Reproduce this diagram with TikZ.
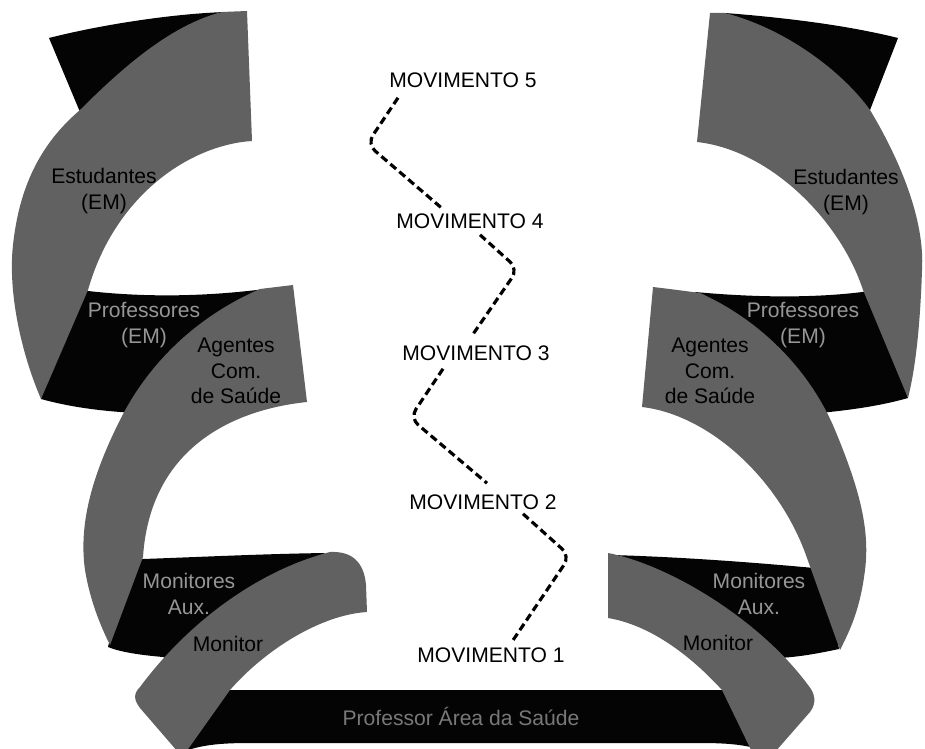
\documentclass[tikz,border=0pt]{standalone}
\usepackage{fontspec}
\setmainfont{Liberation Sans}
\definecolor{ribbonfront}{RGB}{97,97,97}
\definecolor{ribbonback}{RGB}{4,4,4}
\definecolor{backtext}{RGB}{150,150,150}
\definecolor{bandtext}{RGB}{120,120,120}

\begin{document}
\begin{tikzpicture}[x=0.02cm, y=-0.02cm,
    front/.style={fill=ribbonfront},
    back/.style={fill=ribbonback},
    frontlabel/.style={text=black, align=center, inner sep=0pt, font=\fontsize{12}{14.7}\selectfont},
    backlabel/.style={frontlabel, text=backtext},
    stage/.style={text=black, inner sep=0pt, font=\fontsize{12}{14.7}\selectfont},
    movepath/.style={line width=1.8pt, dash pattern=on 4.3pt off 2.4pt, rounded corners=6pt}]
    \clip (0,0) rectangle (925,749);

    % Back faces of the ribbons (black), left column
    \fill[back] (49,38) .. controls (100,25) and (170,14) .. (225,12) -- (200,60) -- (80,112) -- cycle;
    \fill[back] (70,292) -- (88,291) .. controls (150,298) and (210,296) .. (265,289) -- (135,413) .. controls (100,411) and (70,407) .. (41,399) -- cycle;
    \fill[back] (128,562) -- (143,559) .. controls (200,557) and (260,554) .. (325,553) -- (175,662) -- (163,657) .. controls (140,655) and (120,652) .. (108,647) -- cycle;

    % Back faces, right column
    \fill[back] (725,13) .. controls (790,18) and (850,26) .. (898,38) -- (870,110) -- (780,60) -- cycle;
    \fill[back] (700,300) -- (695,292) .. controls (760,298) and (820,298) .. (870,291) -- (908,398) .. controls (880,406) and (850,410) .. (820,413) -- cycle;
    \fill[back] (650,575) -- (612,555) .. controls (680,557) and (750,562) .. (825,569) -- (839,649) .. controls (820,653) and (800,657) .. (778,658) -- cycle;

    % Bottom band
    \fill[back] (215,690) -- (740,690) -- (765,752) .. controls (750,745) and (730,743) .. (700,743) -- (250,743) .. controls (220,743) and (200,745) .. (183,752) -- cycle;

    % Front faces (gray), left column
    \fill[front] (222,12) -- (247,11) -- (252,141) .. controls (190,145) and (115,195) .. (88,290) -- (41,399) .. controls (20,350) and (8,290) .. (13,245) .. controls (20,180) and (45,140) .. (80,110) .. controls (120,70) and (170,25) .. (222,12) -- cycle;
    \fill[front] (260,289) -- (293,285) -- (307,402) .. controls (230,410) and (150,450) .. (143,557) -- (110,645) .. controls (100,625) and (90,600) .. (85,570) .. controls (78,520) and (95,470) .. (120,420) .. controls (150,360) and (200,315) .. (260,289) -- cycle;
    \fill[front] (330,552) .. controls (352,551) and (364,562) .. (366,585) -- (367,612) .. controls (320,615) and (265,650) .. (230,690) -- (186,752) -- (178,752) -- (140,708) .. controls (134,700) and (133,694) .. (140,687) .. controls (190,620) and (260,570) .. (330,552) -- cycle;

    % Front faces, right column
    \fill[front] (710,13) -- (725,13) .. controls (790,30) and (845,75) .. (870,110) .. controls (900,160) and (925,220) .. (922,270) .. controls (920,330) and (915,370) .. (908,398) -- (863,290) .. controls (840,220) and (770,150) .. (697,142) -- cycle;
    \fill[front] (653,287) .. controls (670,289) and (685,291) .. (700,293) .. controls (760,320) and (810,370) .. (835,430) .. controls (860,490) and (870,530) .. (865,570) .. controls (860,610) and (850,630) .. (840,650) -- (807,558) .. controls (780,480) and (710,415) .. (642,407) -- cycle;
    \fill[front] (608,553) .. controls (670,565) and (760,620) .. (808,685) .. controls (815,693) and (817,703) .. (810,712) -- (775,752) -- (752,752) -- (722,690) .. controls (690,655) and (650,625) .. (608,618) -- cycle;

    % Labels on the ribbons
    \node[frontlabel] (estL) at (104,191) {Estudantes\\(EM)};
    \node[backlabel] (profL) at (144,325) {Professores\\(EM)};
    \node[frontlabel] (agL) at (236,371) {Agentes\\Com.\\de Saúde};
    \node[backlabel] (monauxL) at (189,594) {Monitores\\Aux.};
    \node[frontlabel] (monL) at (228,644) {Monitor};
    \node[frontlabel] (estR) at (846,192) {Estudantes\\(EM)};
    \node[backlabel] (profR) at (803,325) {Professores\\(EM)};
    \node[frontlabel] (agR) at (710,371) {Agentes\\Com.\\de Saúde};
    \node[backlabel] (monauxR) at (759,594) {Monitores\\Aux.};
    \node[frontlabel] (monR) at (718,643) {Monitor};
    \node[frontlabel, text=bandtext] (profsaude) at (461,716) {Professor Área da Saúde};

    % Movements
    \node[stage] (m5) at (463,80) {MOVIMENTO 5};
    \node[stage] (m4) at (470,221) {MOVIMENTO 4};
    \node[stage] (m3) at (476,353) {MOVIMENTO 3};
    \node[stage] (m2) at (483,502) {MOVIMENTO 2};
    \node[stage] (m1) at (491,655) {MOVIMENTO 1};

    % Turning points of the dashed path
    \coordinate (t5) at (367,144);
    \coordinate (t4) at (518,269);
    \coordinate (t3) at (410,418);
    \coordinate (t2) at (570,556);

    \draw[movepath] ([shift={(-65,10)}]m5.south) -- (t5) -- ([shift={(-27,-4)}]m4.north);
    \draw[movepath] ([shift={(10,6)}]m4.south) -- (t4) -- ([shift={(-3,-11)}]m3.north);
    \draw[movepath] ([shift={(-33,8)}]m3.south) -- (t3) -- ([shift={(4,-11)}]m2.north);
    \draw[movepath] ([shift={(40,4)}]m2.south) -- (t2) -- ([shift={(22,-7)}]m1.north);
\end{tikzpicture}
\end{document}
